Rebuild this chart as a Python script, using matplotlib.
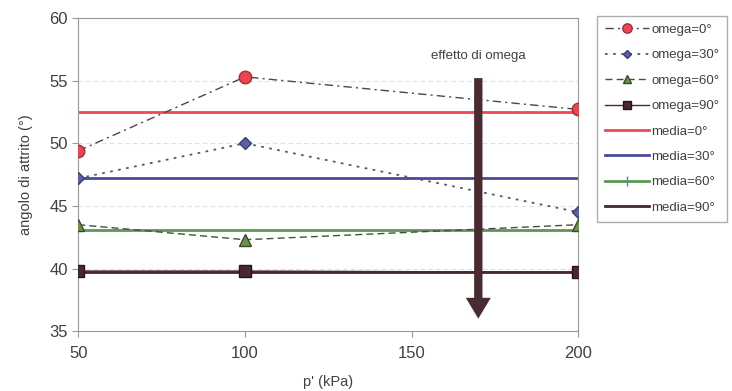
import matplotlib.pyplot as plt

plt.rcParams['font.family'] = ['Liberation Sans', 'DejaVu Sans']

p = [50, 100, 200]
omega0 = [49.4, 55.3, 52.7]
omega30 = [47.2, 50.0, 44.5]
omega60 = [43.5, 42.3, 43.5]
omega90 = [39.8, 39.8, 39.7]
media = [52.5, 47.2, 43.1, 39.75]

fig = plt.figure(figsize=(7.32, 3.91), dpi=100)
ax = fig.add_axes([0.107, 0.153, 0.683, 0.801])

# series with markers
ax.plot(p, omega0, color="#5a4048", ls=(0, (6, 3, 1.5, 3)), lw=1,
        marker="o", ms=9, mfc="#ee4450", mec="#a03038", label="omega=0°", zorder=4)
ax.plot(p, omega30, color="#5a5470", ls=(0, (1.5, 3)), lw=1.3,
        marker="D", ms=6, mfc="#5a60b0", mec="#3a3a70", label="omega=30°", zorder=4)
ax.plot(p, omega60, color="#4a4a4a", ls=(0, (5, 3)), lw=1,
        marker="^", ms=8, mfc="#6a9440", mec="#3a4a2a", label="omega=60°", zorder=4)
ax.plot(p, omega90, color="#4a2830", lw=1,
        marker="s", ms=8, mfc="#4a2830", mec="#2a1418", label="omega=90°", zorder=4)

# mean lines
ax.plot([p[0], p[-1]], [media[0]] * 2, color="#f04850", lw=2, label="media=0°")
ax.plot([p[0], p[-1]], [media[1]] * 2, color="#4a4a9c", lw=2, label="media=30°")
ax.plot([p[0], p[-1]], [media[2]] * 2, color="#5a9a50", lw=2,
        marker="|", ms=10, mec="#6080c0", markevery=[], label="media=60°")
ax.plot([p[0], p[-1]], [media[3]] * 2, color="#4a2430", lw=2, label="media=90°")

# arrow
ax.annotate("", xy=(170, 36.0), xytext=(170, 55.2),
            arrowprops=dict(arrowstyle="simple,head_length=1.5,head_width=1.8,tail_width=0.6",
                            mutation_scale=10, lw=0, color="#4a2c30", shrinkA=0, shrinkB=0),
            zorder=5)
ax.text(170, 57.0, "effetto di omega", ha="center", va="center", fontsize=9.5, color="#404040")

ax.set_xlim(50, 200)
ax.set_ylim(35, 60)
ax.set_xticks([50, 100, 150, 200])
ax.set_yticks([35, 40, 45, 50, 55, 60])
ax.yaxis.grid(True, ls=(0, (4, 3)), color="#e0e0e0", lw=0.8)
ax.set_axisbelow(True)
for s in ax.spines.values():
    s.set_color("#999999")
    s.set_linewidth(0.8)
ax.tick_params(colors="#999999", labelcolor="#404040", labelsize=12, length=4)
ax.tick_params(axis="x", pad=7)
ax.set_xlabel("p' (kPa)", fontsize=10.5, color="#404040", labelpad=10)
ax.set_ylabel("angolo di attrito (°)", fontsize=10.5, color="#404040", labelpad=12)

leg = ax.legend(loc="upper left", bbox_to_anchor=(1.03, 1.02), fontsize=9.5,
                frameon=True, fancybox=False, edgecolor="#999999", markerscale=0.75,
                handlelength=3.3, handletextpad=0.2, borderpad=0.6, labelspacing=1.0,
                borderaxespad=0.3)
for t in leg.get_texts():
    t.set_color("#404040")

fig.savefig("out.png", dpi=100)
